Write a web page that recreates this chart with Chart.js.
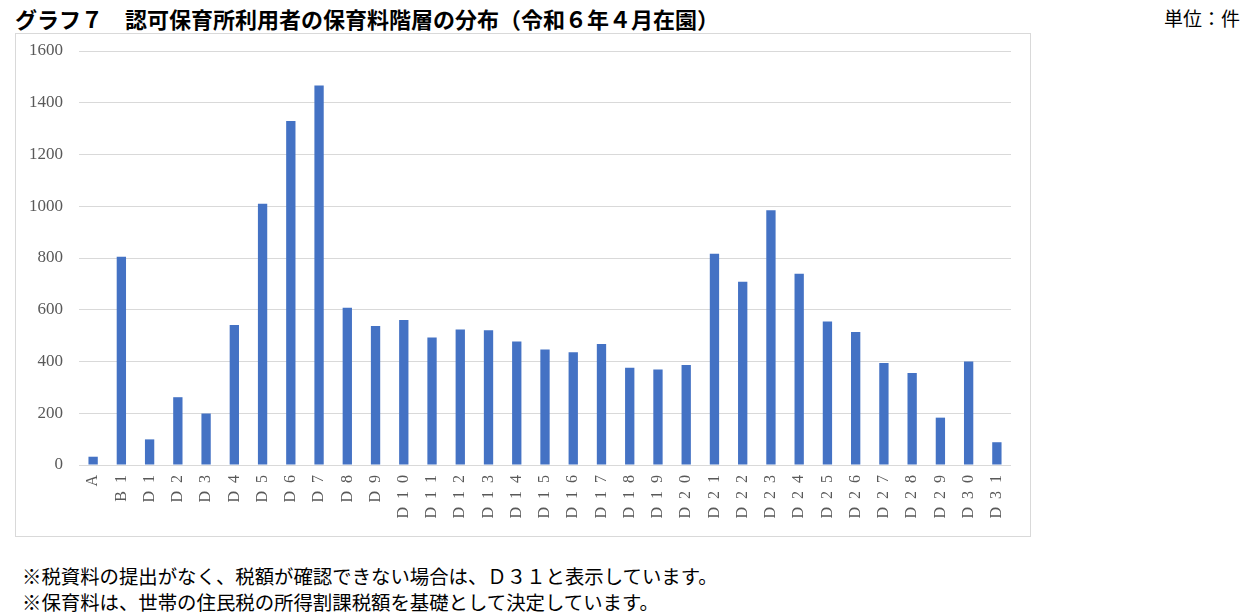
<!DOCTYPE html>
<html lang="ja">
<head>
    <meta charset="UTF-8">
    <title>グラフ７ 認可保育所利用者の保育料階層の分布</title>
    <script src="https://cdn.jsdelivr.net/npm/chart.js"></script>
    <style>
        body {
            margin: 0;
            width: 1243px;
            height: 613px;
            position: relative;
            background: #fff;
            font-family: "Noto Sans CJK JP", sans-serif;
            color: #000;
        }
        #title {
            position: absolute;
            left: 15px;
            top: 4px;
            font-size: 22px;
            font-weight: bold;
            line-height: 28px;
            white-space: nowrap;
        }
        #unit {
            position: absolute;
            right: 3px;
            top: 5px;
            font-size: 19px;
            line-height: 26px;
        }
        #box {
            position: absolute;
            left: 15px;
            top: 33px;
            width: 1014px;
            height: 502px;
            border: 1px solid #d9d9d9;
        }
        .note {
            position: absolute;
            left: 22px;
            font-size: 19.4px;
            line-height: 24px;
            white-space: nowrap;
        }
    </style>
</head>
<body>
    <div id="title">グラフ７　認可保育所利用者の保育料階層の分布（令和６年４月在園）</div>
    <div id="unit">単位：件</div>
    <div id="box"><canvas id="chart"></canvas></div>
    <div class="note" style="top:564px">※税資料の提出がなく、税額が確認できない場合は、Ｄ３１と表示しています。</div>
    <div class="note" style="top:590px">※保育料は、世帯の住民税の所得割課税額を基礎として決定しています。</div>

    <script>
        // 保育料階層
        const categories = ['A', 'B  1', 'D  1', 'D  2', 'D  3', 'D  4', 'D  5', 'D  6', 'D  7', 'D  8', 'D  9',
            'D  1  0', 'D  1  1', 'D  1  2', 'D  1  3', 'D  1  4', 'D  1  5', 'D  1  6', 'D  1  7', 'D  1  8', 'D  1  9',
            'D  2  0', 'D  2  1', 'D  2  2', 'D  2  3', 'D  2  4', 'D  2  5', 'D  2  6', 'D  2  7', 'D  2  8', 'D  2  9',
            'D  3  0', 'D  3  1'];
        // 件数
        const counts = [32, 805, 99, 262, 199, 541, 1010, 1329, 1467, 608, 537,
            560, 493, 524, 521, 477, 446, 436, 468, 376, 369,
            386, 816, 708, 985, 739, 555, 514, 394, 356, 183,
            400, 88];
        const yTicks = [0, 200, 400, 600, 800, 1000, 1200, 1400, 1600];

        const serif = '"Liberation Serif", "DejaVu Serif", serif';

        new Chart(document.getElementById('chart'), {
            type: 'bar',
            data: {
                labels: categories,
                datasets: [{
                    data: counts,
                    backgroundColor: '#4472c4',
                    borderWidth: 0,
                    categoryPercentage: 1,
                    barPercentage: 0.33
                }]
            },
            options: {
                responsive: true,
                maintainAspectRatio: false,
                animation: false,
                layout: { padding: { top: 17, right: 19, bottom: 0, left: 0 } },
                plugins: {
                    legend: { display: false },
                    tooltip: { enabled: false }
                },
                scales: {
                    x: {
                        grid: { display: false, drawTicks: false },
                        border: { display: false },
                        ticks: {
                            autoSkip: false,
                            minRotation: 90,
                            maxRotation: 90,
                            padding: 10,
                            color: '#595959',
                            font: { family: serif, size: 16 }
                        },
                        afterFit: s => {
                            s.height = 71;
                            s.paddingLeft = 0;
                            s.paddingRight = 0;
                            s.paddingTop = 0;
                            s.paddingBottom = 0;
                        }
                    },
                    y: {
                        min: yTicks[0],
                        max: yTicks[yTicks.length - 1],
                        afterBuildTicks: s => { s.ticks = yTicks.map(v => ({ value: v })); },
                        grid: { color: '#d9d9d9', lineWidth: 1, drawTicks: false },
                        border: { display: false },
                        ticks: {
                            padding: 16,
                            color: '#595959',
                            font: { family: serif, size: 17 },
                            callback: v => String(v)
                        },
                        afterFit: s => {
                            s.width = 63;
                            s.paddingTop = 0;
                            s.paddingBottom = 0;
                        }
                    }
                }
            }
        });
    </script>
</body>
</html>
